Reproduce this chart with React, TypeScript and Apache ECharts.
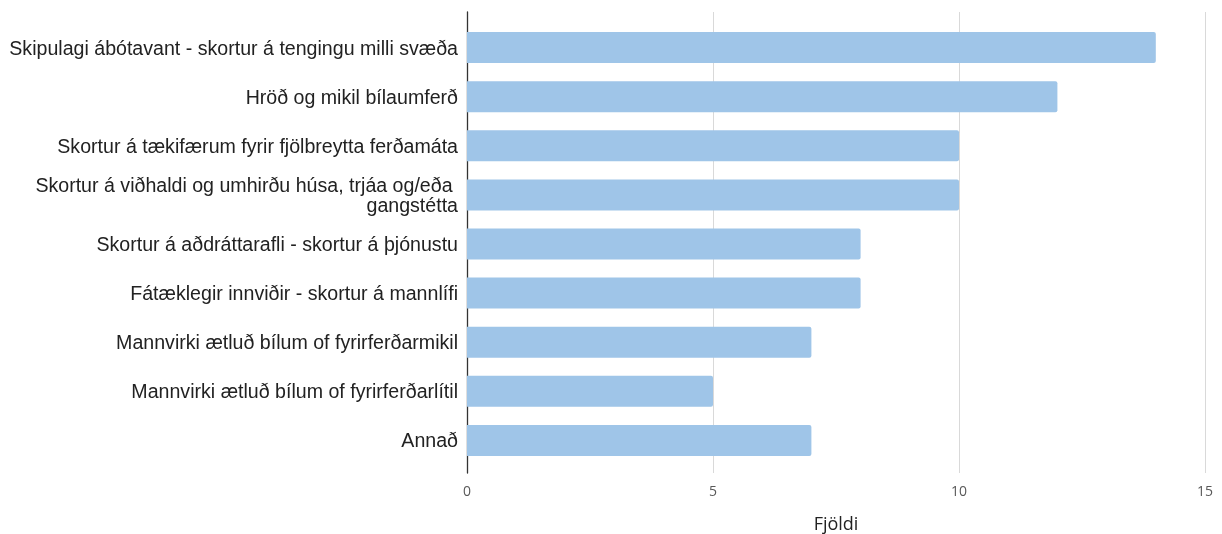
import React, { useEffect, useRef } from "react";
import * as echarts from "echarts";

const categories = [
  "Skipulagi ábótavant - skortur á tengingu milli svæða",
  "Hröð og mikil bílaumferð",
  "Skortur á tækifærum fyrir fjölbreytta ferðamáta",
  "Skortur á viðhaldi og umhirðu húsa, trjáa og/eða gangstétta",
  "Skortur á aðdráttarafli - skortur á þjónustu",
  "Fátæklegir innviðir - skortur á mannlífi",
  "Mannvirki ætluð bílum of fyrirferðarmikil",
  "Mannvirki ætluð bílum of fyrirferðarlítil",
  "Annað",
];
const values = [14, 12, 10, 10, 8, 8, 7, 5, 7];
const axisName = "Fjöldi";
const xMin = 0;
const xMax = 15;
const xStep = 5;

export default function App() {
  const ref = useRef<HTMLDivElement>(null);
  useEffect(() => {
    if (!ref.current) return;
    const chart = echarts.init(ref.current, null, { renderer: "svg" });
    chart.setOption({
      animation: false,
      grid: [
        { left: 467, right: 17, top: 12, bottom: 61, containLabel: false, outerBoundsMode: "none" },
        { left: 467, right: 17, top: 23, bottom: 69, containLabel: false, outerBoundsMode: "none" },
      ],
      xAxis: [
        {
          gridIndex: 0,
          type: "value",
          min: xMin,
          max: xMax,
          interval: xStep,
          name: axisName,
          nameLocation: "middle",
          nameGap: 41,
          nameTextStyle: { fontFamily: "Open Sans", fontSize: 18, color: "#222" },
          axisLine: { show: false },
          axisTick: { show: false },
          axisLabel: { fontFamily: "Open Sans", fontSize: 14, color: "#595959", margin: 10 },
          splitLine: { show: true, lineStyle: { color: "#d9d9d9", width: 1 } },
        },
        {
          gridIndex: 1,
          type: "value",
          min: xMin,
          max: xMax,
          interval: xStep,
          show: false,
          splitLine: { show: false },
        },
      ],
      yAxis: [
        {
          gridIndex: 0,
          type: "value",
          min: 0,
          max: 1,
          axisLine: { show: true, lineStyle: { color: "#333", width: 1.3 } },
          axisTick: { show: false },
          axisLabel: { show: false },
          splitLine: { show: false },
        },
        {
          gridIndex: 1,
          type: "category",
          inverse: true,
          data: categories,
          axisLine: { show: false },
          axisTick: { show: false },
          axisLabel: {
            fontFamily: "Liberation Sans, Arial",
            fontSize: 19.6,
            color: "#222",
            margin: 9,
            width: 500,
            overflow: "break",
            lineHeight: 20,
            align: "right",
          },
        },
      ],
      series: [
        {
          type: "bar",
          xAxisIndex: 1,
          yAxisIndex: 1,
          data: values,
          barWidth: 31,
          itemStyle: {
            color: "#9fc5e8",
            borderRadius: [0, 2, 2, 0],
          },
        },
      ],
    });
    return () => chart.dispose();
  }, []);
  return <div ref={ref} style={{ position: "fixed", left: 0, top: 0, width: 1222, height: 534 }} />;
}
